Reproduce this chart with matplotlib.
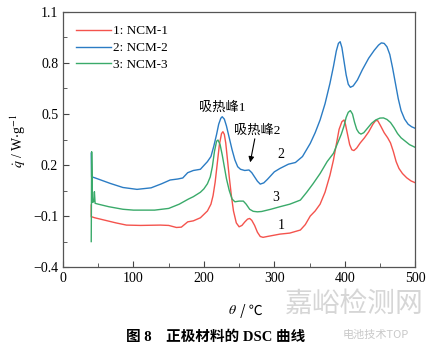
import matplotlib
matplotlib.use('Agg')
import matplotlib.pyplot as plt
from matplotlib.ticker import MultipleLocator, FixedLocator

plt.rcParams['font.family'] = ['Liberation Serif', 'Noto Sans CJK SC', 'DejaVu Sans']
plt.rcParams['mathtext.fontset'] = 'stix'
plt.rcParams['axes.unicode_minus'] = True

# 1: NCM-1 (red)
x1 = [40, 40, 40.5, 45, 60, 75, 90, 110, 138, 150, 161, 168, 177, 185, 195, 205, 210, 213,
      216, 219, 222, 225, 227, 229, 231, 233, 236, 239, 242, 246, 250, 254, 258, 262, 265,
      268, 272, 276, 280, 284, 290, 308, 322, 337, 344, 351, 358, 365, 372, 379, 384, 388,
      392, 396, 399, 401, 404, 407, 410, 413, 417, 422, 428, 434, 440, 444, 447, 451, 456,
      461, 465, 469, 473, 477, 482, 488, 494, 500]
y1 = [-0.035, -0.104, -0.104, -0.11, -0.125, -0.14, -0.153, -0.155, -0.153, -0.155, -0.167,
      -0.165, -0.134, -0.128, -0.11, -0.07, -0.03, 0.02, 0.10, 0.21, 0.32, 0.385, 0.396,
      0.38, 0.33, 0.25, 0.13, 0.02, -0.07, -0.14, -0.163, -0.155, -0.135, -0.118, -0.114,
      -0.125, -0.155, -0.195, -0.22, -0.225, -0.22, -0.206, -0.2, -0.182, -0.15, -0.10,
      -0.07, -0.03, 0.04, 0.14, 0.23, 0.32, 0.41, 0.455, 0.465, 0.44, 0.38, 0.32, 0.29,
      0.285, 0.30, 0.33, 0.36, 0.395, 0.44, 0.462, 0.46, 0.43, 0.39, 0.36, 0.33, 0.28, 0.22,
      0.18, 0.15, 0.125, 0.107, 0.096]

# 2: NCM-2 (blue)
x2 = [40, 40.5, 45, 67, 85, 105, 125, 140, 152, 163, 170, 177, 185, 195, 205, 210, 214, 218,
      221, 224, 226, 229, 232, 236, 240, 244, 248, 252, 258, 264, 268, 272, 276, 280, 285,
      290, 300, 308, 320, 330, 340, 351, 358, 365, 372, 379, 384, 388, 391, 393.5, 396, 399,
      402, 405, 408, 412, 418, 425, 434, 442, 448, 452, 456, 460, 464, 468, 472, 476, 480,
      485, 490, 495, 500]
y2 = [0.27, 0.131, 0.125, 0.092, 0.068, 0.057, 0.066, 0.09, 0.112, 0.118, 0.124, 0.155, 0.168,
      0.175, 0.22, 0.25, 0.31, 0.38, 0.44, 0.475, 0.484, 0.47, 0.43, 0.36, 0.29, 0.23, 0.19,
      0.175, 0.168, 0.171, 0.155, 0.13, 0.105, 0.088, 0.095, 0.115, 0.16, 0.18, 0.205, 0.215,
      0.25, 0.327, 0.39, 0.465, 0.56, 0.68, 0.78, 0.87, 0.915, 0.925, 0.89, 0.81, 0.73,
      0.675, 0.657, 0.665, 0.70, 0.76, 0.828, 0.875, 0.905, 0.918, 0.915, 0.895, 0.85, 0.77,
      0.68, 0.59, 0.52, 0.47, 0.44, 0.425, 0.416]

# 3: NCM-3 (green)
x3 = [40, 40.6, 41.8, 43.5, 44.5, 45.5, 50, 65, 85, 100, 113, 130, 150, 165, 178, 185, 195,
      200, 205, 209, 212, 215, 218, 220, 223, 226, 229, 232, 236, 240, 244, 250, 256, 260,
      265, 270, 276, 282, 295, 308, 322, 337, 346, 355, 365, 375, 384, 390, 395, 399, 402,
      405, 408, 411, 414, 417, 420, 423, 427, 432, 438, 444, 450, 455, 460, 465, 470, 475,
      480, 486, 492, 500]
y3 = [-0.25, 0.278, -0.02, -0.015, 0.043, -0.025, -0.03, -0.045, -0.06, -0.065, -0.065, -0.065,
      -0.055, -0.03, 0.0, 0.014, 0.04, 0.06, 0.09, 0.13, 0.19, 0.28, 0.34, 0.347, 0.32, 0.26,
      0.19, 0.12, 0.05, 0.0, -0.016, -0.012, -0.012, -0.03, -0.06, -0.072, -0.075, -0.073,
      -0.06, -0.045, -0.03, -0.006, 0.04, 0.09, 0.15, 0.22, 0.269, 0.33, 0.38, 0.43, 0.48,
      0.51, 0.52, 0.50, 0.45, 0.41, 0.39, 0.382, 0.39, 0.415, 0.445, 0.465, 0.476, 0.477,
      0.468, 0.45, 0.42, 0.385, 0.36, 0.34, 0.32, 0.304]

labels = ['1: NCM-1', '2: NCM-2', '3: NCM-3']
colors = ['#f4534d', '#2b7cc4', '#3aaa6a']

fig = plt.figure(figsize=(4.32, 3.51), dpi=100)
ax = fig.add_axes([0.146, 0.239, 0.815, 0.727])

ax.plot(x1, y1, color=colors[0], lw=1.0, label=labels[0])
ax.plot(x2, y2, color=colors[1], lw=1.0, label=labels[1])
ax.plot(x3, y3, color=colors[2], lw=1.0, label=labels[2])

ax.set_xlim(0, 500)
ax.set_ylim(-0.4, 1.1)
ax.xaxis.set_major_locator(MultipleLocator(100))
ax.xaxis.set_minor_locator(MultipleLocator(50))
ax.yaxis.set_major_locator(FixedLocator([-0.4, -0.1, 0.2, 0.5, 0.8, 1.1]))
ax.yaxis.set_minor_locator(FixedLocator([-0.25, 0.05, 0.35, 0.65, 0.95]))
ax.set_yticklabels(['\u22120.4', '\u22120.1', '0.2', '0.5', '0.8', '1.1'])
ax.tick_params(which='both', direction='in', labelsize=10, color='#444444')
ax.tick_params(which='major', length=4)
ax.tick_params(which='minor', length=3)
for s in ax.spines.values():
    s.set_color('#555555')
    s.set_linewidth(0.9)

leg = ax.legend(loc='upper left', frameon=False, fontsize=9.5, handlelength=2.6,
                borderaxespad=0.6, labelspacing=0.35, handletextpad=0.2)

ax.text(226, 0.54, '吸热峰1', ha='center', va='center', fontsize=9.5)
ax.text(276, 0.405, '吸热峰2', ha='center', va='center', fontsize=9.5)
ax.annotate('', xy=(265, 0.2), xytext=(273, 0.37),
            arrowprops=dict(arrowstyle='-|>', color='black', lw=0.8, mutation_scale=8))
ax.text(310, 0.26, '2', ha='center', va='center', fontsize=10)
ax.text(302, 0.01, '3', ha='center', va='center', fontsize=10)
ax.text(310, -0.153, '1', ha='center', va='center', fontsize=10)

fig.text(0.042, 0.6, r'$\dot{q}$ / W$\cdot$g$^{-1}$', rotation=90, ha='center', va='center',
         fontsize=10)
fig.text(0.548, 0.114, r'$\theta$', ha='right', va='center', fontsize=10)
fig.text(0.548, 0.114, ' / ℃', ha='left', va='center', fontsize=10,
         family=['Noto Sans CJK SC'])
fig.text(0.5, 0.04, '图 8    正极材料的 DSC 曲线', ha='center', va='center', fontsize=10.5,
         fontweight='bold')

# watermark
fig.text(0.82, 0.135, '嘉峪检测网', ha='center', va='center', fontsize=20,
         color='#cccccc', alpha=0.8, family=['Noto Sans CJK SC'])
fig.text(0.87, 0.045, '电池技术TOP', ha='center', va='center', fontsize=8,
         color='#bbbbbb', alpha=0.8, family=['Noto Sans CJK SC'])

fig.savefig('out.png', dpi=100)
